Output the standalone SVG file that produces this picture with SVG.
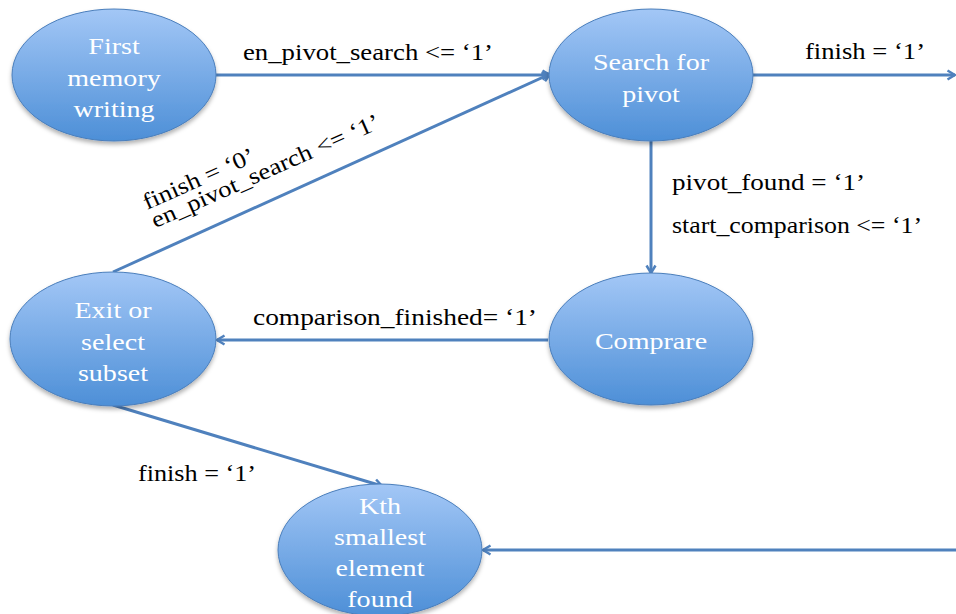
<svg xmlns="http://www.w3.org/2000/svg" width="956" height="614" viewBox="0 0 956 614">
<style>
.node ellipse{fill:url(#g);stroke:#4a7ebb;stroke-width:1;filter:url(#sh)}
.node text{fill:#ffffff;font-family:"Liberation Serif","DejaVu Serif",serif;font-size:24px;text-anchor:middle}
.edge{stroke:#4f81bd;stroke-width:3;fill:none;marker-end:url(#arr)}
.lbl{fill:#000;font-family:"Liberation Serif","DejaVu Serif",serif;font-size:23px}
</style>
<defs>
<linearGradient id="g" x1="0" y1="0" x2="0" y2="1">
<stop offset="0" stop-color="#a3c7f6"/>
<stop offset="1" stop-color="#4d8fd7"/>
</linearGradient>
<filter id="sh" x="-20%" y="-20%" width="140%" height="150%">
<feDropShadow dx="0" dy="3" stdDeviation="2" flood-color="#000" flood-opacity="0.3"/>
</filter>
<marker id="arr" markerWidth="12" markerHeight="12" viewBox="0 0 12 12" refX="10" refY="6" orient="auto" markerUnits="userSpaceOnUse">
<path d="M2.5,1.5 L10,6 L2.5,10.5" fill="none" stroke="#4f81bd" stroke-width="2.5" stroke-linejoin="miter"/>
</marker>
</defs>
<g id="connectors">
<line class="edge" x1="216" y1="75" x2="550" y2="75"/>
<line class="edge" x1="753" y1="75" x2="955" y2="75"/>
<line class="edge" x1="651" y1="141" x2="651" y2="273"/>
<line class="edge" x1="548" y1="340" x2="217" y2="340"/>
<line class="edge" x1="113" y1="272" x2="550" y2="74"/>
<line class="edge" x1="113" y1="405" x2="382" y2="486"/>
<line class="edge" x1="956" y1="550" x2="483" y2="550"/>
</g>
<g id="labels">
<text class="lbl" x="243" y="60" textLength="250" lengthAdjust="spacingAndGlyphs">en_pivot_search &lt;= ‘1’</text>
<text class="lbl" x="805" y="59" textLength="120" lengthAdjust="spacingAndGlyphs">finish = ‘1’</text>
<text class="lbl" x="672" y="190" textLength="193" lengthAdjust="spacingAndGlyphs">pivot_found = ‘1’</text>
<text class="lbl" x="672" y="233" textLength="250" lengthAdjust="spacingAndGlyphs">start_comparison &lt;= ‘1’</text>
<text class="lbl" x="253" y="325" textLength="284" lengthAdjust="spacingAndGlyphs">comparison_finished= ‘1’</text>
<text class="lbl" x="138" y="481" textLength="118" lengthAdjust="spacingAndGlyphs">finish = ‘1’</text>
<g transform="translate(147,210) rotate(-24)">
<text class="lbl" x="0" y="0" textLength="120" lengthAdjust="spacingAndGlyphs">finish = ‘0’</text>
<text class="lbl" x="0" y="20" textLength="248" lengthAdjust="spacingAndGlyphs">en_pivot_search &lt;= ‘1’</text>
</g>
</g>
<g id="first" class="node">
<ellipse cx="114" cy="75" rx="102" ry="66"/>
<g transform="translate(114,0) scale(1.17,1)">
<text x="0" y="54">First</text>
<text x="0" y="86">memory</text>
<text x="0" y="117">writing</text>
</g>
</g>
<g id="search" class="node">
<ellipse cx="651" cy="75" rx="102" ry="66"/>
<g transform="translate(651,0) scale(1.17,1)">
<text x="0" y="70">Search for</text>
<text x="0" y="102">pivot</text>
</g>
</g>
<g id="compare" class="node">
<ellipse cx="651" cy="339" rx="102" ry="66"/>
<g transform="translate(651,0) scale(1.17,1)">
<text x="0" y="349">Comprare</text>
</g>
</g>
<g id="exit" class="node">
<ellipse cx="113" cy="339" rx="103" ry="67"/>
<g transform="translate(113,0) scale(1.17,1)">
<text x="0" y="318">Exit or</text>
<text x="0" y="350">select</text>
<text x="0" y="381">subset</text>
</g>
</g>
<g id="kth" class="node">
<ellipse cx="380" cy="550" rx="102" ry="66"/>
<g transform="translate(380,0) scale(1.17,1)">
<text x="0" y="514">Kth</text>
<text x="0" y="545">smallest</text>
<text x="0" y="576">element</text>
<text x="0" y="607">found</text>
</g>
</g>
</svg>
